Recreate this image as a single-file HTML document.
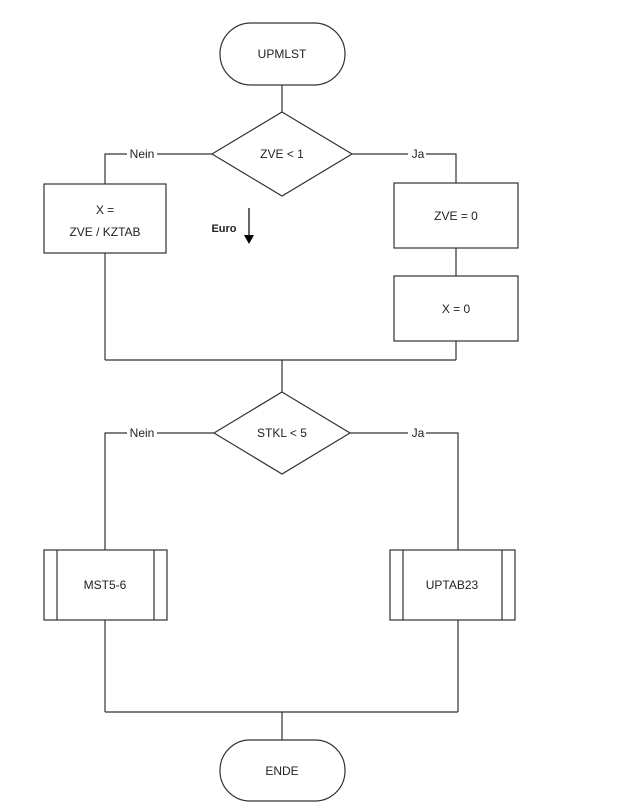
<!DOCTYPE html>
<html><head><meta charset="utf-8"><style>
html,body{margin:0;padding:0;background:#fff;}
svg{display:block;}
text{font-family:"Liberation Sans",sans-serif;font-size:12px;fill:#222;}
</style></head><body>
<svg width="629" height="808" viewBox="0 0 629 808" xmlns="http://www.w3.org/2000/svg">
<g fill="none" stroke="#333" stroke-width="1.2">
<rect x="220" y="23" width="125" height="62" rx="31" fill="#fff"/>
<line x1="282" y1="85" x2="282" y2="112"/>
<polygon points="282,112 352,154 282,196 212,154" fill="#fff"/>
<polyline points="212,154 105,154 105,184"/>
<rect x="44" y="184" width="122" height="69"/>
<line x1="105" y1="253" x2="105" y2="360"/>
<polyline points="352,154 456,154 456,183"/>
<rect x="394" y="183" width="124" height="65"/>
<line x1="456" y1="248" x2="456" y2="276"/>
<rect x="394" y="276" width="124" height="65"/>
<line x1="456" y1="341" x2="456" y2="360"/>
<line x1="105" y1="360" x2="456" y2="360"/>
<line x1="282" y1="360" x2="282" y2="392"/>
<polygon points="282,392 350,433 282,474 214,433" fill="#fff"/>
<polyline points="214,433 105,433 105,550"/>
<polyline points="350,433 458,433 458,550"/>
<rect x="44" y="550" width="123" height="70"/>
<line x1="57" y1="550" x2="57" y2="620"/>
<line x1="154" y1="550" x2="154" y2="620"/>
<rect x="390" y="550" width="125" height="70"/>
<line x1="403" y1="550" x2="403" y2="620"/>
<line x1="502" y1="550" x2="502" y2="620"/>
<line x1="105" y1="620" x2="105" y2="712"/>
<line x1="458" y1="620" x2="458" y2="712"/>
<line x1="105" y1="712" x2="458" y2="712"/>
<line x1="282" y1="712" x2="282" y2="740"/>
<rect x="220" y="740" width="125" height="61" rx="30" fill="#fff"/>
<line x1="249" y1="208" x2="249" y2="236" stroke="#000"/>
</g>
<polygon points="244,235 254,235 249,244" fill="#000"/>
<rect x="127" y="147" width="30" height="14" fill="#fff"/>
<rect x="408" y="147" width="18" height="14" fill="#fff"/>
<rect x="127" y="426" width="30" height="14" fill="#fff"/>
<rect x="408" y="426" width="18" height="14" fill="#fff"/>
<g text-anchor="middle">
<text x="282" y="58">UPMLST</text>
<text x="282" y="158">ZVE &lt; 1</text>
<text x="142" y="158">Nein</text>
<text x="418" y="158">Ja</text>
<text x="105" y="214">X =</text>
<text x="105" y="236">ZVE / KZTAB</text>
<text x="224" y="232" style="font-weight:bold;font-size:11px">Euro</text>
<text x="456" y="220">ZVE = 0</text>
<text x="456" y="313">X = 0</text>
<text x="282" y="437">STKL &lt; 5</text>
<text x="142" y="437">Nein</text>
<text x="418" y="437">Ja</text>
<text x="105" y="589">MST5-6</text>
<text x="452" y="589">UPTAB23</text>
<text x="282" y="775">ENDE</text>
</g>
</svg>
</body></html>
